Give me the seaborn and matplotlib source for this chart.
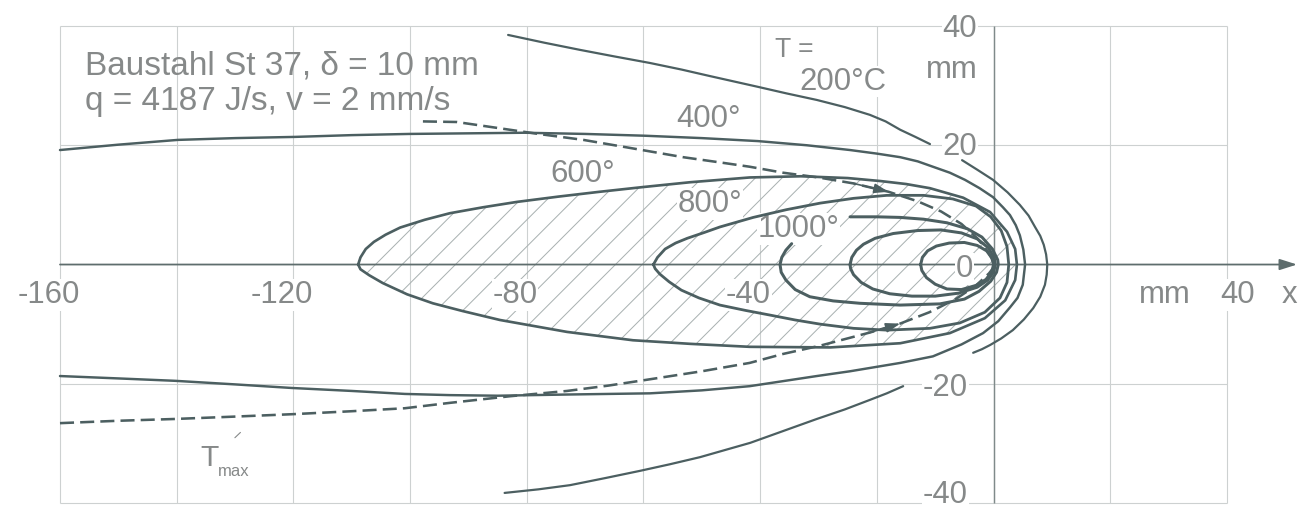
import numpy as np
import pandas as pd
import matplotlib
matplotlib.use("Agg")
import matplotlib.pyplot as plt
from matplotlib.patches import Polygon
import seaborn as sns

# Isotherms of a moving heat source in a plate, coordinates in mm (x along the weld,
# y across it, source at the origin). None splits a curve where a label interrupts it.
ISO_200 = [(-83.2, 38.5), (-77, 37.2), (-70.9, 36.0), (-65, 34.9), (-58.9, 33.8), (-53.5, 32.7),
           (-48.6, 31.6), (-44.5, 30.7), (-40.4, 29.8), (-35.5, 28.7), (-30.3, 27.6), (-25.5, 26.4),
           (-21.2, 25.1), (-18.5, 24.0), (-16.0, 22.6), (-13.4, 21.4), (-10.9, 20.2), None,
           (-5.4, 17.5), (-2.8, 15.9), (-0.1, 14.2), (2.4, 12.1), (4.5, 10.0), (6.0, 8.2), (7.1, 6.3),
           (8.0, 4.8), (8.6, 3.3), (9.0, 1.7), (9.2, 0.0), (9.1, -1.7), (8.8, -3.4), (8.0, -5.4),
           (6.8, -7.3), (5.2, -9.2), (3.3, -11.0), (1.3, -12.4), (-0.6, -13.5), (-2.0, -14.2),
           (-3.5, -14.8), None,
           (-15.5, -20.4), (-18.3, -21.6), (-21.2, -22.7), (-25.5, -24.3), (-30.3, -25.9),
           (-36, -27.9), (-41.7, -29.9), (-46, -31.1), (-50.3, -32.3), (-55.5, -33.5), (-60.6, -34.6),
           (-66.5, -35.8), (-72.6, -37.0), (-78, -37.7), (-83.8, -38.3)]

ISO_400 = [(-160, 19.2), (-150, 20.1), (-139.8, 20.9), (-130, 21.2), (-119.8, 21.4), (-110, 21.7),
           (-100.1, 21.9), (-90, 22.0), (-80.4, 22.1), (-70, 21.9), (-59.8, 21.6), (-50, 21.2),
           (-40.4, 20.7), (-32, 20.0), (-24.6, 19.2), (-20, 18.6), (-16.0, 18.0), (-13, 17.3),
           (-10.4, 16.4), (-7.5, 15.4), (-4.9, 14.2), (-2.4, 12.8), (-0.1, 11.3), (1.6, 9.6),
           (2.8, 8.3), (3.8, 6.6), (4.5, 4.9), (5.1, 2.5), (5.4, 0.0), (5.2, -1.7), (5.0, -3.4),
           (4.1, -5.6), (2.8, -7.2), (0.8, -9.5), (-1.8, -11.5), (-5.5, -13.4), (-10.4, -15.4),
           (-16.0, -16.5), (-24.6, -17.9), (-30.3, -18.7), (-41.8, -20.4), (-50, -21.1),
           (-58.9, -21.6), (-73.1, -21.8), (-85, -22.0), (-93.2, -21.9), (-100.9, -21.7),
           (-110, -21.2), (-120.3, -20.7), (-130, -20.1), (-140.3, -19.5), (-150, -19.1), (-160, -18.7)]

ISO_600 = [(-108.9, 0.0), (-108.5, 1.2), (-107.6, 2.6), (-106.2, 3.8), (-104.2, 5.0), (-101.7, 6.2),
           (-97.5, 7.5), (-93.2, 8.6), (-87.5, 9.6), (-81.7, 10.5), (-74.5, 11.4), (-67.5, 12.2),
           (-60, 13.0), (-52, 13.8), (-41.8, 14.6), (-33, 14.8), (-25, 14.5), (-19.4, 14.0),
           (-15, 13.5), (-10.9, 12.8), (-5.2, 11.2), (-0.6, 8.8), (2.3, 5.5), (3.7, 2.6), (4.0, 0.0),
           (3.7, -2.6), (2.0, -6.0), (-1.5, -9.0), (-7.5, -11.5), (-16, -13.2), (-28, -13.9),
           (-41.8, -13.8), (-52, -13.3), (-61.8, -12.7), (-73.1, -11.3), (-84.6, -9.3), (-91, -7.8),
           (-96.1, -6.5), (-100.5, -5.0), (-104.7, -3.1), (-107, -1.8), (-108.5, -0.8), (-108.9, 0.0)]

ISO_800 = [(-58.3, 0.0), (-57.6, 1.2), (-56.3, 2.6), (-54.5, 3.6), (-52.5, 4.4), (-49.5, 5.4),
           (-46.9, 6.3), (-41.2, 7.9), (-35.5, 9.2), (-29.7, 10.3), (-24, 11.1), (-18.3, 11.6),
           (-12, 11.6), (-7, 11.0), (-3, 9.8), (-0.5, 8.0), (1.3, 5.7), (2.3, 3.0), (2.6, 0.0),
           (2.3, -3.0), (1.1, -5.6), (-1.5, -8.0), (-5.8, -9.8), (-10.9, -10.7), (-18.3, -11.0),
           (-24, -10.7), (-29.7, -10.0), (-34, -9.3), (-38.2, -8.5), (-42.5, -7.7), (-46.9, -6.8),
           (-50.5, -5.6), (-53.5, -4.3), (-55.6, -2.9), (-57.2, -1.6), (-58.0, -0.7), (-58.3, 0.0)]

ISO_1000 = [(-24.6, 8.0), (-20, 8.0), (-16, 7.9), (-12, 7.6), (-8, 7.0), (-4.5, 6.0), (-2, 4.6),
            (-0.2, 2.6), (0.7, 0.8), (0.8, 0.0), (0.5, -1.3), (-0.5, -2.8), (-2.5, -4.5), (-5, -5.8),
            (-9.2, -6.6), (-16, -6.8), (-22.9, -6.5), (-27.5, -6.1), (-31.5, -5.4), (-34, -4.2),
            (-35.6, -2.6), (-36.4, -1.3), (-36.6, 0.0), (-36.3, 1.2), (-35.6, 2.4), (-34.6, 3.5)]

ISO_1200 = [(-24.6, 0.0), (-24.3, 1.2), (-23.5, 2.4), (-22.3, 3.4), (-20.3, 4.4), (-17.2, 5.2),
            (-13, 5.7), (-9, 5.8), (-5.5, 5.3), (-2.8, 4.3), (-0.9, 2.8), (0.1, 1.2), (0.3, 0.0),
            (0.0, -1.3), (-1.0, -2.6), (-2.8, -3.8), (-6, -4.8), (-10, -5.3), (-14, -5.3),
            (-17.8, -4.9), (-20.7, -4.1), (-22.7, -3.0), (-24.0, -1.7), (-24.5, -0.7), (-24.6, 0.0)]

ISO_1400 = [(-12.5, 0.0), (-12.2, 1.2), (-11.3, 2.3), (-9.8, 3.1), (-7.6, 3.6), (-5, 3.7),
            (-2.8, 3.2), (-1.2, 2.3), (-0.3, 1.1), (0.0, 0.0), (-0.3, -1.2), (-1.3, -2.5), (-3, -3.5),
            (-5.5, -4.2), (-8, -4.1), (-10, -3.3), (-11.5, -2.2), (-12.3, -1.0), (-12.5, 0.0)]

# locus of peak temperature (dashed)
TMAX_UPPER = [(-97.8, 24.0), (-92, 23.9), (-85, 22.9), (-78, 21.9), (-70.3, 20.9), (-62, 19.5),
              (-53.2, 18.0), (-46, 17.0), (-41.8, 16.4), (-36.1, 15.4), (-30, 14.6), (-24, 13.6),
              (-18, 12.2), (-13, 10.6), (-9, 8.9), (-5.5, 6.8), (-2.8, 4.4), (-1, 2.2), (0, 0.5)]
TMAX_LOWER = [(-160, -26.6), (-150, -26.2), (-140.3, -25.9), (-130, -25.5), (-120.2, -25.1),
              (-110, -24.6), (-100.9, -24.1), (-93.2, -23.2), (-83, -22.1), (-73.1, -21.2),
              (-66, -20.3), (-60.6, -19.5), (-50, -17.9), (-41.8, -16.5), (-36.1, -15.0),
              (-29.7, -13.6), (-21.2, -11.4), (-16, -9.9), (-11, -8.0), (-6.5, -5.8), (-3, -3.5),
              (-0.8, -1.5), (0, -0.5)]

ISO_LABELS = ["T =", "200°C", "400°", "600°", "800°", "1000°"]
ISO_LABEL_POS = [(-37.5, 34.8), (-33.2, 29.3), (-54.3, 23.1), (-76.0, 13.8), (-54.1, 8.8), (-40.4, 4.6)]

TITLE_LINES = ["Baustahl St 37, δ = 10 mm", "q = 4187 J/s, v = 2 mm/s"]

GRID_X = [-160, -140, -120, -100, -80, -60, -40, -20, 0, 20, 40]
GRID_Y = [-40, -20, 20, 40]
XTICK_VALUES = [-160, -120, -80, -40]
YTICK_VALUES = [40, 20, 0, -20, -40]

LINE = "#4c5f61"
TEXT = "#868989"
GRIDC = "#cdd1d1"
HATCH = "#a9b1b1"

sns.set_theme(style="white")
plt.rcParams["font.family"] = ["Liberation Sans", "DejaVu Sans"]
plt.rcParams["hatch.linewidth"] = 0.9

fig = plt.figure(figsize=(1298 / 80, 512 / 80), dpi=80)
ax = fig.add_axes([0, 0, 1, 1])
ax.set_xlim(-170.28, 52.17)
ax.set_ylim(-41.5, 44.36)
ax.axis("off")


def to_frame(points):
    rows, seg = [], 0
    for p in points:
        if p is None:
            seg += 1
            continue
        rows.append((p[0], p[1], seg))
    return pd.DataFrame(rows, columns=["x", "y", "seg"])


def draw_curve(points, lw, ls="-", z=5):
    df = to_frame(points)
    sns.lineplot(data=df, x="x", y="y", units="seg", estimator=None, sort=False, ax=ax,
                 color=LINE, linewidth=lw, linestyle=ls, legend=False, zorder=z,
                 solid_capstyle="round")


# grid and axes
ax.vlines(GRID_X, GRID_Y[0], GRID_Y[-1], color=GRIDC, lw=1.0, zorder=1)
ax.hlines(GRID_Y, GRID_X[0], GRID_X[-1], color=GRIDC, lw=1.0, zorder=1)
ax.vlines([0], GRID_Y[0], GRID_Y[-1], color="#7f8a8a", lw=1.3, zorder=3)
ax.annotate("", xy=(52.0, 0), xytext=(GRID_X[0], 0),
            arrowprops=dict(arrowstyle="-|>,head_length=1.1,head_width=0.35",
                            color="#5e6d6d", lw=1.6, shrinkA=0, shrinkB=0), zorder=3)

# hatched zone inside the 600° isotherm
ax.add_patch(Polygon(np.array(ISO_600), closed=True, facecolor="none", edgecolor=HATCH,
                     hatch="/", linewidth=0, zorder=2))

# isotherms
draw_curve(ISO_200, 2.0)
draw_curve(ISO_400, 2.2)
draw_curve(ISO_600, 2.4)
draw_curve(ISO_800, 2.5)
draw_curve(ISO_1000, 2.7)
draw_curve(ISO_1200, 2.7)
draw_curve(ISO_1400, 2.7)
draw_curve(TMAX_UPPER, 2.3, ls=(0, (5.5, 2.4)))
draw_curve(TMAX_LOWER, 2.3, ls=(0, (5.5, 2.4)))

# direction marks on the peak-temperature locus
for curve, i in ((TMAX_UPPER, 11), (TMAX_LOWER, 16)):
    ax.annotate("", xy=curve[i + 1], xytext=curve[i],
                arrowprops=dict(arrowstyle="-|>,head_length=0.9,head_width=0.3",
                                color=LINE, lw=1.5, shrinkA=0, shrinkB=0), zorder=6)

label_box = dict(facecolor="white", edgecolor="none", pad=0.5)
fs = 28

# axis numbering
for v in XTICK_VALUES:
    ax.text(v - 2.0, -6.45, f"{v}", ha="center", va="baseline", fontsize=fs, color=TEXT,
            bbox=label_box, zorder=4)
ax.text(29.4, -6.45, "mm", ha="center", va="baseline", fontsize=fs, color=TEXT, zorder=4)
ax.text(41.8, -6.45, "40", ha="center", va="baseline", fontsize=fs, color=TEXT,
        bbox=label_box, zorder=4)
ax.text(50.7, -6.45, "x", ha="center", va="baseline", fontsize=fs, color=TEXT, zorder=4)

ytick_pos = {40: (-2.85, 38.2), 20: (-2.85, 18.4), 0: (-3.5, -2.1), -20: (-4.4, -22.1), -40: (-4.4, -40.0)}
for v in YTICK_VALUES:
    px, py = ytick_pos[v]
    ax.text(px, py, f"{v}", ha="right", va="baseline", fontsize=fs, color=TEXT,
            bbox=label_box, zorder=4)
ax.text(-2.7, 31.3, "mm", ha="right", va="baseline", fontsize=fs, color=TEXT, zorder=4)

# material and process data
ax.text(-155.7, 31.8, TITLE_LINES[0], ha="left", va="baseline", fontsize=30, color=TEXT, zorder=4)
ax.text(-155.7, 25.9, TITLE_LINES[1], ha="left", va="baseline", fontsize=30, color=TEXT, zorder=4)

# isotherm temperatures
for lab, (lx, ly) in zip(ISO_LABELS, ISO_LABEL_POS):
    size = 24 if lab == "T =" else fs
    ax.text(lx, ly, lab, ha="left", va="baseline", fontsize=size, color=TEXT,
            bbox=label_box, zorder=4)

# T_max label with its small leader
ax.text(-136.0, -33.8, "T", ha="left", va="baseline", fontsize=27, color=TEXT, zorder=4)
ax.text(-132.9, -35.4, "max", ha="left", va="baseline", fontsize=15, color=TEXT, zorder=4)
ax.annotate("", xy=(-128.8, -27.9), xytext=(-130.3, -29.3),
            arrowprops=dict(arrowstyle="-", color=TEXT, lw=1.0), zorder=4)

fig.savefig("out.png", dpi=80, facecolor="white")
